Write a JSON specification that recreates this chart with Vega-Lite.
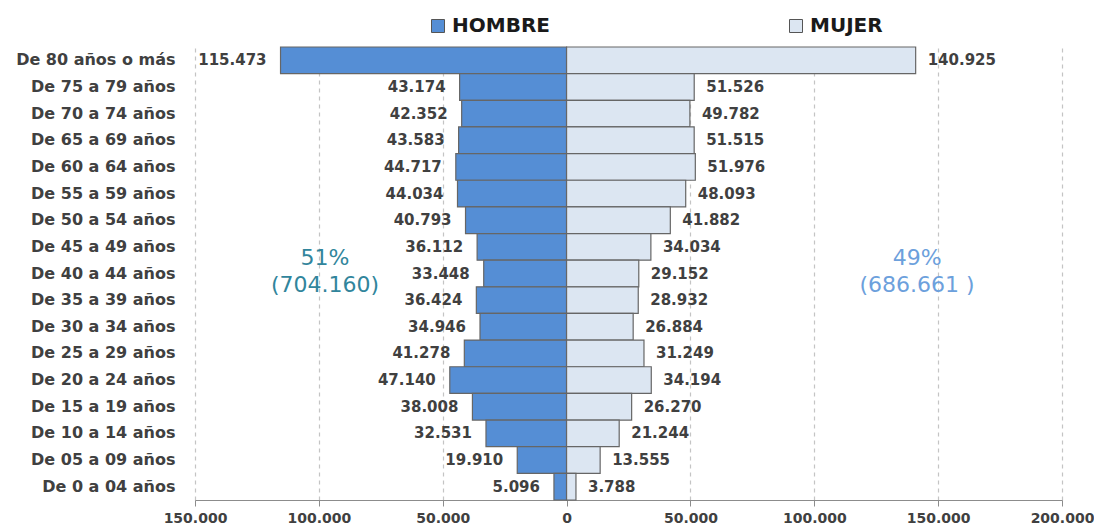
{
  "$schema": "https://vega.github.io/schema/vega-lite/v6.json",
  "width": 867,
  "height": 453,
  "autosize": {"type": "none"},
  "padding": {"left": 195, "top": 47, "right": 32, "bottom": 25},
  "background": "white",
  "config": {"view": {"stroke": null}, "font": "DejaVu Sans"},
  "datasets": {
    "pob": [
      {"edad": "De 80 años o más", "sexo": "HOMBRE", "poblacion": 115473},
      {"edad": "De 80 años o más", "sexo": "MUJER", "poblacion": 140925},
      {"edad": "De 75 a 79 años", "sexo": "HOMBRE", "poblacion": 43174},
      {"edad": "De 75 a 79 años", "sexo": "MUJER", "poblacion": 51526},
      {"edad": "De 70 a 74 años", "sexo": "HOMBRE", "poblacion": 42352},
      {"edad": "De 70 a 74 años", "sexo": "MUJER", "poblacion": 49782},
      {"edad": "De 65 a 69 años", "sexo": "HOMBRE", "poblacion": 43583},
      {"edad": "De 65 a 69 años", "sexo": "MUJER", "poblacion": 51515},
      {"edad": "De 60 a 64 años", "sexo": "HOMBRE", "poblacion": 44717},
      {"edad": "De 60 a 64 años", "sexo": "MUJER", "poblacion": 51976},
      {"edad": "De 55 a 59 años", "sexo": "HOMBRE", "poblacion": 44034},
      {"edad": "De 55 a 59 años", "sexo": "MUJER", "poblacion": 48093},
      {"edad": "De 50 a 54 años", "sexo": "HOMBRE", "poblacion": 40793},
      {"edad": "De 50 a 54 años", "sexo": "MUJER", "poblacion": 41882},
      {"edad": "De 45 a 49 años", "sexo": "HOMBRE", "poblacion": 36112},
      {"edad": "De 45 a 49 años", "sexo": "MUJER", "poblacion": 34034},
      {"edad": "De 40 a 44 años", "sexo": "HOMBRE", "poblacion": 33448},
      {"edad": "De 40 a 44 años", "sexo": "MUJER", "poblacion": 29152},
      {"edad": "De 35 a 39 años", "sexo": "HOMBRE", "poblacion": 36424},
      {"edad": "De 35 a 39 años", "sexo": "MUJER", "poblacion": 28932},
      {"edad": "De 30 a 34 años", "sexo": "HOMBRE", "poblacion": 34946},
      {"edad": "De 30 a 34 años", "sexo": "MUJER", "poblacion": 26884},
      {"edad": "De 25 a 29 años", "sexo": "HOMBRE", "poblacion": 41278},
      {"edad": "De 25 a 29 años", "sexo": "MUJER", "poblacion": 31249},
      {"edad": "De 20 a 24 años", "sexo": "HOMBRE", "poblacion": 47140},
      {"edad": "De 20 a 24 años", "sexo": "MUJER", "poblacion": 34194},
      {"edad": "De 15 a 19 años", "sexo": "HOMBRE", "poblacion": 38008},
      {"edad": "De 15 a 19 años", "sexo": "MUJER", "poblacion": 26270},
      {"edad": "De 10 a 14 años", "sexo": "HOMBRE", "poblacion": 32531},
      {"edad": "De 10 a 14 años", "sexo": "MUJER", "poblacion": 21244},
      {"edad": "De 05 a 09 años", "sexo": "HOMBRE", "poblacion": 19910},
      {"edad": "De 05 a 09 años", "sexo": "MUJER", "poblacion": 13555},
      {"edad": "De 0 a 04 años", "sexo": "HOMBRE", "poblacion": 5096},
      {"edad": "De 0 a 04 años", "sexo": "MUJER", "poblacion": 3788}
    ]
  },
  "layer": [
    {
      "data": {"name": "pob"},
      "transform": [
        {"calculate": "datum.sexo === 'HOMBRE' ? -datum.poblacion : datum.poblacion", "as": "pos"}
      ],
      "mark": {"type": "bar", "stroke": "#666666", "strokeWidth": 1.2},
      "encoding": {
        "y": {
          "field": "edad", "type": "nominal", "title": null,
          "sort": ["De 80 años o más", "De 75 a 79 años", "De 70 a 74 años", "De 65 a 69 años", "De 60 a 64 años", "De 55 a 59 años", "De 50 a 54 años", "De 45 a 49 años", "De 40 a 44 años", "De 35 a 39 años", "De 30 a 34 años", "De 25 a 29 años", "De 20 a 24 años", "De 15 a 19 años", "De 10 a 14 años", "De 05 a 09 años", "De 0 a 04 años"],
          "scale": {"paddingInner": 0, "paddingOuter": 0},
          "axis": {"domain": false, "ticks": false, "labelPadding": 20, "labelFontSize": 16, "labelFontWeight": "bold", "labelColor": "#404040", "labelLimit": 300}
        },
        "x": {
          "field": "pos", "type": "quantitative", "title": null,
          "scale": {"domain": [-150000, 200000], "nice": false},
          "axis": {
            "values": [-150000, -100000, -50000, 0, 50000, 100000, 150000, 200000],
            "labelExpr": "replace(format(abs(datum.value), ','), ',', '.')",
            "labelFlush": false,
            "labelFontSize": 14, "labelFontWeight": "bold", "labelColor": "#404040", "labelPadding": 5,
            "domainColor": "#8c8c8c", "tickColor": "#8c8c8c", "tickSize": 6,
            "grid": true, "gridDash": [4, 4], "gridColor": "#c4c4c4", "gridWidth": 1.2
          }
        },
        "color": {
          "field": "sexo", "type": "nominal",
          "scale": {"domain": ["HOMBRE", "MUJER"], "range": ["#558ED5", "#DCE6F2"]},
          "legend": {
            "title": null, "orient": "none", "legendX": 233, "legendY": -31, "direction": "horizontal",
            "symbolType": "square", "symbolSize": 169, "symbolStrokeColor": "#555555", "symbolStrokeWidth": 1,
            "labelFontSize": 20, "labelFontWeight": "bold", "labelColor": "#1a1a1a", "labelOffset": 4, "labelLimit": 300,
            "columnPadding": 236
          }
        }
      }
    },
    {
      "data": {"name": "pob"},
      "transform": [
        {"filter": "datum.sexo === 'HOMBRE'"},
        {"calculate": "-datum.poblacion", "as": "pos"},
        {"calculate": "replace(format(datum.poblacion, ','), ',', '.')", "as": "etiqueta"}
      ],
      "mark": {"type": "text", "align": "right", "baseline": "middle", "dx": -14, "fontSize": 15, "fontWeight": "bold", "color": "#404040"},
      "encoding": {
        "y": {"field": "edad", "type": "nominal", "sort": ["De 80 años o más", "De 75 a 79 años", "De 70 a 74 años", "De 65 a 69 años", "De 60 a 64 años", "De 55 a 59 años", "De 50 a 54 años", "De 45 a 49 años", "De 40 a 44 años", "De 35 a 39 años", "De 30 a 34 años", "De 25 a 29 años", "De 20 a 24 años", "De 15 a 19 años", "De 10 a 14 años", "De 05 a 09 años", "De 0 a 04 años"]},
        "x": {"field": "pos", "type": "quantitative"},
        "text": {"field": "etiqueta"}
      }
    },
    {
      "data": {"name": "pob"},
      "transform": [
        {"filter": "datum.sexo === 'MUJER'"},
        {"calculate": "replace(format(datum.poblacion, ','), ',', '.')", "as": "etiqueta"}
      ],
      "mark": {"type": "text", "align": "left", "baseline": "middle", "dx": 12, "fontSize": 15, "fontWeight": "bold", "color": "#404040"},
      "encoding": {
        "y": {"field": "edad", "type": "nominal", "sort": ["De 80 años o más", "De 75 a 79 años", "De 70 a 74 años", "De 65 a 69 años", "De 60 a 64 años", "De 55 a 59 años", "De 50 a 54 años", "De 45 a 49 años", "De 40 a 44 años", "De 35 a 39 años", "De 30 a 34 años", "De 25 a 29 años", "De 20 a 24 años", "De 15 a 19 años", "De 10 a 14 años", "De 05 a 09 años", "De 0 a 04 años"]},
        "x": {"field": "poblacion", "type": "quantitative"},
        "text": {"field": "etiqueta"}
      }
    },
    {
      "data": {"values": [{"pos": -97500, "edad": "De 40 a 44 años", "texto": "51%\n(704.160)"}]},
      "mark": {"type": "text", "align": "center", "baseline": "middle", "lineBreak": "\n", "lineHeight": 27, "dy": -16, "fontSize": 22, "color": "#31859C"},
      "encoding": {
        "y": {"field": "edad", "type": "nominal", "sort": ["De 80 años o más", "De 75 a 79 años", "De 70 a 74 años", "De 65 a 69 años", "De 60 a 64 años", "De 55 a 59 años", "De 50 a 54 años", "De 45 a 49 años", "De 40 a 44 años", "De 35 a 39 años", "De 30 a 34 años", "De 25 a 29 años", "De 20 a 24 años", "De 15 a 19 años", "De 10 a 14 años", "De 05 a 09 años", "De 0 a 04 años"]},
        "x": {"field": "pos", "type": "quantitative"},
        "text": {"field": "texto"}
      }
    },
    {
      "data": {"values": [{"pos": 141500, "edad": "De 40 a 44 años", "texto": "49%\n(686.661 )"}]},
      "mark": {"type": "text", "align": "center", "baseline": "middle", "lineBreak": "\n", "lineHeight": 27, "dy": -16, "fontSize": 22, "color": "#6CA0DC"},
      "encoding": {
        "y": {"field": "edad", "type": "nominal", "sort": ["De 80 años o más", "De 75 a 79 años", "De 70 a 74 años", "De 65 a 69 años", "De 60 a 64 años", "De 55 a 59 años", "De 50 a 54 años", "De 45 a 49 años", "De 40 a 44 años", "De 35 a 39 años", "De 30 a 34 años", "De 25 a 29 años", "De 20 a 24 años", "De 15 a 19 años", "De 10 a 14 años", "De 05 a 09 años", "De 0 a 04 años"]},
        "x": {"field": "pos", "type": "quantitative"},
        "text": {"field": "texto"}
      }
    }
  ]
}
